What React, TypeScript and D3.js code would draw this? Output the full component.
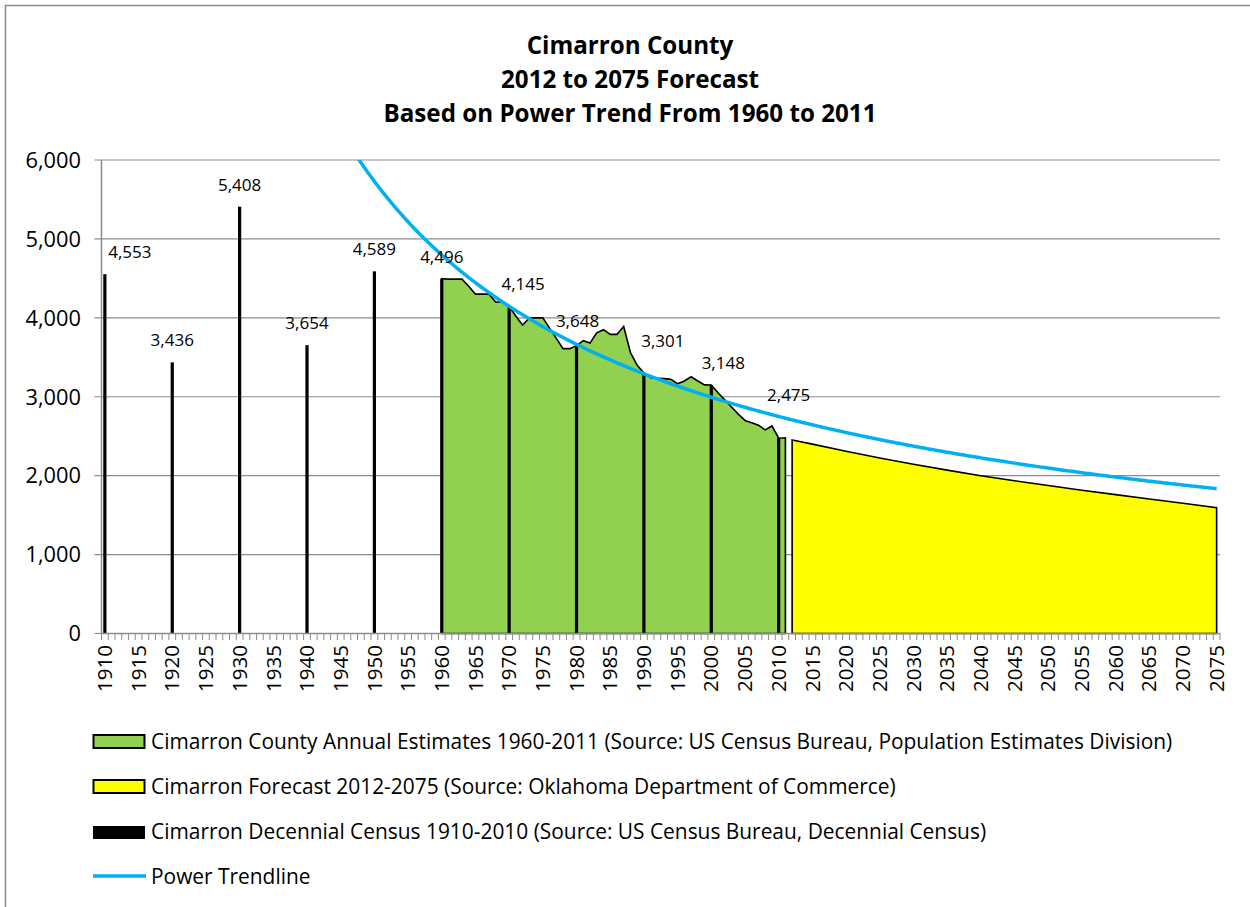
import React from "react";
import * as d3 from "d3";

// ---------- data ----------
const titleLines = ["Cimarron County", "2012 to 2075 Forecast", "Based on Power Trend From 1960 to 2011"];

const firstYear = 1910;
const lastYear = 2075;

const decennialYears = [1910, 1920, 1930, 1940, 1950, 1960, 1970, 1980, 1990, 2000, 2010];
const decennialValues = [4553, 3436, 5408, 3654, 4589, 4496, 4145, 3648, 3301, 3148, 2475];

const estimateYears = [
  1960, 1961, 1962, 1963, 1964, 1965, 1966, 1967, 1968, 1969,
  1970, 1971, 1972, 1973, 1974, 1975, 1976, 1977, 1978, 1979,
  1980, 1981, 1982, 1983, 1984, 1985, 1986, 1987, 1988, 1989,
  1990, 1991, 1992, 1993, 1994, 1995, 1996, 1997, 1998, 1999,
  2000, 2001, 2002, 2003, 2004, 2005, 2006, 2007, 2008, 2009,
  2010, 2011,
];
const estimateValues = [
  4496, 4490, 4490, 4490, 4400, 4300, 4300, 4300, 4200, 4200,
  4145, 4020, 3910, 4000, 4000, 4000, 3870, 3740, 3610, 3610,
  3648, 3710, 3680, 3810, 3850, 3790, 3790, 3890, 3560, 3400,
  3301, 3240, 3235, 3230, 3220, 3165, 3200, 3254, 3200, 3150,
  3148, 3050, 2960, 2870, 2780, 2700, 2672, 2640, 2580, 2630,
  2475, 2480,
];

const forecastYears = [2012, 2015, 2020, 2025, 2030, 2035, 2040, 2045, 2050, 2055, 2060, 2065, 2070, 2075];
const forecastValues = [2452, 2400, 2310, 2225, 2145, 2070, 2000, 1935, 1875, 1815, 1760, 1705, 1650, 1594];

const yTicks = [0, 1000, 2000, 3000, 4000, 5000, 6000];

const legendLabels = [
  "Cimarron County Annual Estimates 1960-2011 (Source: US Census Bureau, Population Estimates Division)",
  "Cimarron Forecast 2012-2075 (Source: Oklahoma Department of Commerce)",
  "Cimarron Decennial Census 1910-2010 (Source: US Census Bureau, Decennial Census)",
  "Power Trendline",
];

// label nudges (layout, px) for decennial data labels
const labelNudges: Record<number, [number, number]> = {
  1910: [25, 0],
  1970: [14, 0],
  1980: [1, -3],
  1990: [19, -10],
  2000: [12, 0],
  2010: [10, -21],
};

// ---------- layout / style ----------
const W = 1250;
const H = 907;
const FONT = "'Open Sans', 'Noto Sans', sans-serif";
const GREEN = "#92D050";
const YELLOW = "#FFFF00";
const BLUE = "#00B0F0";
const GRID = "#8c8c8c";

export default function App() {
  const allYears = d3.range(firstYear, lastYear + 1);
  const x = d3.scaleBand<number>().domain(allYears).range([101.5, 1220]).padding(0);
  const cx = (yr: number) => (x(yr) as number) + x.bandwidth() / 2;
  const y = d3.scaleLinear().domain([0, 6000]).range([633.5, 160]);

  const areaGen = d3
    .area<[number, number]>()
    .x((d) => cx(d[0]))
    .y0(y(0))
    .y1((d) => y(d[1]));

  const greenPts: [number, number][] = estimateYears.map((yr, i) => [yr, estimateValues[i]]);
  const yellowPts: [number, number][] = forecastYears.map((yr, i) => [yr, forecastValues[i]]);

  // power trendline fitted to the annual estimates (x = category index)
  const lx = estimateYears.map((yr) => Math.log(yr - firstYear + 1));
  const ly = estimateValues.map((v) => Math.log(v));
  const mx = d3.mean(lx) as number;
  const my = d3.mean(ly) as number;
  let sxy = 0, sxx = 0;
  lx.forEach((v, i) => {
    sxy += (v - mx) * (ly[i] - my);
    sxx += (v - mx) * (v - mx);
  });
  const b = sxy / sxx;
  const a = Math.exp(my - b * mx);
  const trendYears = d3.range(firstYear, lastYear + 0.001, 0.25);
  const trendPts: [number, number][] = trendYears.map((t) => [t, a * Math.pow(t - firstYear + 1, b)]);
  const step = x.step();
  const lineGen = d3
    .line<[number, number]>()
    .x((d) => cx(firstYear) + (d[0] - firstYear) * step)
    .y((d) => y(d[1]));

  const x0 = 101.5;
  const x1 = 1220;

  return (
    <svg
      width={W}
      height={H}
      style={{ position: "absolute", left: 0, top: 0, display: "block", background: "#fff" }}
      fontFamily={FONT}
    >
      <defs>
        <clipPath id="plotClip">
          <rect x={x0} y={160} width={x1 - x0} height={633.5 - 160} />
        </clipPath>
      </defs>
      <rect x={5.5} y={5.5} width={1260} height={930} fill="#fff" stroke="#8a8a8a" strokeWidth={1.5} />

      {/* title */}
      {titleLines.map((t, i) => (
        <text key={t} x={630} y={54 + i * 34} textAnchor="middle" fontWeight="bold" fontSize={24.2} fill="#000">
          {t}
        </text>
      ))}

      {/* gridlines & y axis */}
      {yTicks.map((v) => (
        <g key={v}>
          {v > 0 && <line x1={x0 - 7} x2={x1} y1={y(v)} y2={y(v)} stroke={GRID} strokeWidth={1.2} />}
          {v === 0 && <line x1={x0 - 7} x2={x0} y1={y(v)} y2={y(v)} stroke={GRID} strokeWidth={1.2} />}
          <text x={81} y={y(v) + 7.8} textAnchor="end" fontSize={21.8} fill="#000">
            {d3.format(",")(v)}
          </text>
        </g>
      ))}

      {/* areas */}
      <path d={areaGen(greenPts) as string} fill={GREEN} stroke="#000" strokeWidth={1.6} strokeLinejoin="miter" />
      <path d={areaGen(yellowPts) as string} fill={YELLOW} stroke="#000" strokeWidth={1.6} />

      {/* decennial bars */}
      {decennialYears.map((yr, i) => (
        <rect key={yr} x={cx(yr) - 1.6} y={y(decennialValues[i])} width={3.2} height={y(0) - y(decennialValues[i])} fill="#000" />
      ))}

      {/* axes lines */}
      <line x1={x0} x2={x0} y1={160} y2={633.5} stroke={GRID} strokeWidth={1.5} />
      <line x1={x0} x2={x1} y1={633.5} y2={633.5} stroke={GRID} strokeWidth={1.5} />
      {allYears.concat([lastYear + 1]).map((yr) => {
        const xx = yr <= lastYear ? (x(yr) as number) : x1;
        return <line key={"t" + yr} x1={xx} x2={xx} y1={633.5} y2={640} stroke={GRID} strokeWidth={1} />;
      })}
      {allYears
        .filter((yr) => yr % 5 === 0)
        .map((yr) => (
          <text
            key={"l" + yr}
            transform={`translate(${cx(yr) + 7.2},645) rotate(-90)`}
            textAnchor="end"
            fontSize={20.5}
            fill="#000"
          >
            {yr}
          </text>
        ))}

      {/* trendline */}
      <path d={lineGen(trendPts) as string} fill="none" stroke={BLUE} strokeWidth={3.5} clipPath="url(#plotClip)" />

      {/* data labels */}
      {decennialYears.map((yr, i) => {
        const [dx, dy] = labelNudges[yr] || [0, 0];
        return (
          <text key={"d" + yr} x={cx(yr) + dx} y={y(decennialValues[i]) - 16 + dy} textAnchor="middle" fontSize={17} fill="#000">
            {d3.format(",")(decennialValues[i])}
          </text>
        );
      })}

      {/* legend */}
      <g>
        <rect x={93.5} y={735} width={51} height={13} fill={GREEN} stroke="#000" strokeWidth={2} />
        <rect x={93.5} y={780} width={51} height={13} fill={YELLOW} stroke="#000" strokeWidth={2} />
        <rect x={93} y={826} width={52} height={13} fill="#000" />
        <line x1={93} x2={146} y1={876} y2={876} stroke={BLUE} strokeWidth={3.5} />
        {legendLabels.map((t, i) => (
          <text key={t} x={151} y={748.5 + i * 45} fontSize={20.9} fill="#000">
            {t}
          </text>
        ))}
      </g>
    </svg>
  );
}
